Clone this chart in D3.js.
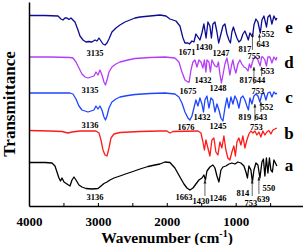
<!DOCTYPE html>
<html>
<head>
<meta charset="utf-8">
<script src="https://cdn.jsdelivr.net/npm/d3@7"></script>
<style>
  body { margin: 0; background: #fff; }
  svg { display: block; }
  text { font-family: "Liberation Serif", "Times New Roman", serif; font-weight: bold; }
</style>
</head>
<body>
<svg id="chart" width="307" height="245"></svg>
<script>
// spectra: [wavenumber cm-1, transmittance (a.u., offset stack)]
var specE = [[4000,190.5],[3768,190.5],[3579,190],[3536,187],[3507,186],[3478,188],[3449,188],[3420,186.5],[3391,188],[3333,184],[3289,176],[3260,170],[3216,166],[3173,164],[3135,164.5],[3086,164],[3042,166],[3013,165],[2984,168],[2955,165],[2926,162],[2897,161],[2868,163],[2839,167],[2796,174],[2738,178],[2680,181],[2607,184],[2534,186],[2462,188],[2389,189],[2244,190],[2099,191],[2012,190],[1954,187],[1911,186],[1867,185],[1809,180],[1765,168],[1736,163],[1693,163],[1671,162],[1635,165],[1606,164],[1577,172],[1548,169],[1519,166],[1490,173],[1461,182],[1430,168],[1403,184],[1374,180],[1352,168],[1330,182],[1301,184],[1272,174],[1247,163],[1214,172],[1185,180],[1156,182],[1127,172],[1098,166],[1076,163],[1055,174],[1033,179],[1011,174],[982,168],[953,164],[924,166],[895,172],[866,175],[837,170],[817,166],[793,173],[755,169],[735,181],[706,187],[677,184],[643,173],[619,186],[590,190],[552,179],[532,189],[503,191],[474,182],[445,190],[416,186],[402,188]];
var specD = [[4000,149],[3695,149],[3405,148.5],[3362,148],[3318,144],[3275,138],[3231,132],[3187,129],[3144,128],[3100,129],[3057,130],[3028,134],[2999,131],[2970,136],[2941,131],[2912,124],[2890,121],[2868,126],[2839,134],[2796,139],[2738,142],[2680,144],[2564,146],[2462,147.5],[2244,148.5],[2027,149],[1882,148],[1824,144],[1780,134],[1736,126],[1693,124],[1675,124],[1649,136],[1620,144],[1591,146],[1562,139],[1533,146],[1504,144],[1475,138],[1454,146],[1432,134],[1417,146],[1388,144],[1367,134],[1345,146],[1330,144],[1301,140],[1272,139],[1250,144],[1229,132],[1207,123],[1185,131],[1156,142],[1127,148],[1105,140],[1084,131],[1062,140],[1040,146],[1019,138],[997,133],[968,142],[939,146],[910,142],[880,139],[851,138],[822,135],[800,142],[779,138],[757,144],[735,148],[706,149],[677,146],[644,140],[623,149],[605,149],[576,146],[553,140],[532,149],[503,149],[474,143],[445,149],[416,146],[402,149]];
var specC = [[4000,113],[3405,113],[3362,112],[3318,107],[3275,100],[3231,96],[3187,95],[3144,94],[3100,95],[3057,96],[3028,100],[2999,97],[2970,100],[2941,96],[2912,89],[2890,86],[2868,90],[2839,98],[2796,104],[2738,107],[2680,109],[2564,110.5],[2462,111.5],[2244,112.5],[2027,113],[1882,112],[1824,109],[1780,103],[1736,94],[1693,88],[1664,86],[1635,90],[1606,98],[1577,106],[1548,100],[1519,108],[1490,102],[1468,94],[1446,106],[1417,110],[1388,98],[1359,108],[1330,106],[1301,94],[1272,102],[1243,96],[1214,88],[1185,85],[1156,98],[1127,108],[1098,98],[1069,109],[1040,102],[1011,110],[982,106],[953,98],[924,108],[895,110],[866,106],[837,100],[815,96],[793,108],[764,102],[735,110],[706,112],[677,110],[648,104],[619,112],[590,113],[561,106],[532,113],[503,114],[474,109],[445,114],[416,112],[402,113]];
var specB = [[4000,75.5],[3695,75],[3521,74.5],[3434,73],[3376,74],[3260,75],[3028,75],[2984,73],[2955,66],[2926,56],[2897,51],[2868,50],[2839,58],[2810,68],[2767,72],[2680,73.5],[2389,74.5],[2099,75],[1998,75],[1954,73],[1911,74.5],[1548,75],[1504,73],[1475,64],[1454,56],[1432,66],[1403,58],[1374,50],[1345,66],[1316,68],[1287,54],[1258,51],[1229,64],[1200,58],[1171,70],[1142,56],[1113,48],[1084,46],[1055,54],[1026,60],[1004,50],[982,64],[953,68],[924,61],[895,70],[866,58],[837,66],[808,72],[779,75],[750,73],[721,75],[692,71],[663,74],[634,69],[605,75],[576,71],[547,74],[518,75.5],[489,72],[460,76],[431,77],[402,78]];
var specA = [[4000,43.5],[3768,43.5],[3666,43],[3623,40],[3594,34],[3565,28],[3543,25],[3521,28],[3492,24],[3449,22],[3405,20],[3376,26],[3347,29],[3318,26],[3275,21],[3231,19],[3173,17.5],[3086,17],[2999,17.5],[2955,20],[2912,22.5],[2868,24],[2825,26],[2767,28],[2680,30],[2578,32.5],[2491,34.5],[2389,37],[2273,39.5],[2172,41],[2099,42],[2027,44],[1954,43.5],[1882,38],[1809,29],[1751,22],[1707,18],[1664,16],[1620,18],[1577,22],[1533,26],[1490,28],[1461,31],[1439,26],[1417,35],[1374,39],[1330,41],[1301,38],[1272,30],[1243,24],[1214,36],[1185,39],[1142,40],[1098,42],[1055,43],[1011,42],[968,44],[924,43],[880,40],[851,34],[829,28],[808,40],[779,36],[757,24],[735,36],[706,43],[677,41],[648,28],[619,44],[597,47],[576,30],[554,48],[532,33],[510,48],[489,36],[467,34],[445,46],[416,42],[402,40]];

var seriesNames = ["a", "b", "c", "d", "e"];
var seriesColors = ["#000000", "#ff1a1a", "#1f45ff", "#b53df5", "#0c0c94"];
var seriesLetterPos = [41, 73, 109, 144, 179];

// peak labels: [text, wavenumber, transmittance]
var peakLabels = [
  ["3135",3042,153],["1671",1707,154],["1430",1461,159],["1247",1214,153],["817",866,157],["755",735,150],["643",605,162],["552",532,172],
  ["3135",3115,116],["1675",1693,115],["1432",1475,126],["1248",1258,118],["817",851,125.5],["644",663,125.5],["553",532,135],["753",677,115.2],
  ["3136",3115,81],["1676",1722,79],["1432",1490,89],["1245",1258,80],["819",866,88.5],["643",634,88.5],["753",699,79],["552",547,99],
  ["3136",3042,9],["1663",1751,9],["1430",1504,5],["1246",1258,8],["814",895,12.5],["753",779,2.5],["639",597,6.5],["550",518,17.5]
];
// arrows: [wavenumber, tail, head]
var peakArrows = [
  [757,156,173],[655,165,172],
  [735,122,139],[623,130,139],
  [721,85,102],[634,94,104],
  [1446,10,26],[760,10,26],[663,12,29]
];
var xTicks = [4000, 3500, 3000, 2500, 2000, 1500, 1000, 500];

var svg = d3.select("#chart");

var x = d3.scaleLinear().domain([4000, 30]).range([29, 302.5]);
var y = d3.scaleLinear().domain([0, 204]).range([206, 2]);

var line = d3.line()
  .x(function (d) { return x(d[0]); })
  .y(function (d) { return y(d[1]); });

var specs = [specA, specB, specC, specD, specE];
svg.selectAll("path.spec")
  .data(specs)
  .enter().append("path")
  .attr("class", "spec")
  .attr("d", line)
  .attr("fill", "none")
  .attr("stroke", function (d, i) { return seriesColors[i]; })
  .attr("stroke-width", 1.3)
  .attr("stroke-linejoin", "round");

// axes
var xAxis = d3.axisBottom(x)
  .tickValues(xTicks)
  .tickSizeInner(-3)
  .tickSizeOuter(0)
  .tickPadding(10.6)
  .tickFormat(function (d) { return d % 1000 === 0 ? d : ""; });

var gx = svg.append("g")
  .attr("transform", "translate(0," + y(0) + ")")
  .call(xAxis);
gx.select(".domain").attr("stroke-width", 1.5);
gx.selectAll(".tick line").attr("stroke-width", 1);
gx.selectAll(".tick text")
  .attr("font-size", 13)
  .attr("font-family", "Liberation Serif")
  .attr("font-weight", "bold");
gx.selectAll(".tick text").filter(function (d) { return d % 1000 !== 0; }).remove();

var gy = svg.append("g")
  .attr("transform", "translate(" + x(4000) + ",0)")
  .call(d3.axisLeft(y).tickValues([]).tickSizeOuter(0));
gy.select(".domain").attr("stroke-width", 1.5);

// axis titles
var xt = svg.append("text")
  .attr("x", 167)
  .attr("y", 242.5)
  .attr("text-anchor", "middle")
  .attr("font-size", 15.5);
xt.append("tspan").text("Wavenumber (cm");
xt.append("tspan").attr("font-size", 10).attr("dy", -6).text("-1");
xt.append("tspan").attr("dy", 6).text(")");

svg.append("text")
  .attr("transform", "translate(15,104) rotate(-90)")
  .attr("text-anchor", "middle")
  .attr("font-size", 17)
  .text("Transmittance");

// series letters
svg.selectAll("text.letter")
  .data(seriesNames)
  .enter().append("text")
  .attr("class", "letter")
  .attr("x", 289)
  .attr("y", function (d, i) { return y(seriesLetterPos[i]); })
  .attr("dy", "0.35em")
  .attr("text-anchor", "middle")
  .attr("font-size", 17)
  .text(function (d) { return d; });

// peak annotations
svg.selectAll("text.peak")
  .data(peakLabels)
  .enter().append("text")
  .attr("class", "peak")
  .attr("x", function (d) { return x(d[1]); })
  .attr("y", function (d) { return y(d[2]); })
  .attr("dy", "0.35em")
  .attr("text-anchor", "middle")
  .attr("font-size", 8.5)
  .text(function (d) { return d[0]; });

svg.selectAll("line.arrow")
  .data(peakArrows)
  .enter().append("line")
  .attr("class", "arrow")
  .attr("x1", function (d) { return x(d[0]); })
  .attr("x2", function (d) { return x(d[0]); })
  .attr("y1", function (d) { return y(d[1]); })
  .attr("y2", function (d) { return y(d[2]); })
  .attr("stroke", "#222")
  .attr("stroke-width", 0.7);

svg.selectAll("path.head")
  .data(peakArrows)
  .enter().append("path")
  .attr("class", "head")
  .attr("d", function (d) {
    var px = x(d[0]), py = y(d[2]);
    return "M" + (px - 1.5) + "," + (py + 3.5) + "L" + px + "," + py + "L" + (px + 1.5) + "," + (py + 3.5) + "Z";
  })
  .attr("fill", "#222");
</script>
</body>
</html>
